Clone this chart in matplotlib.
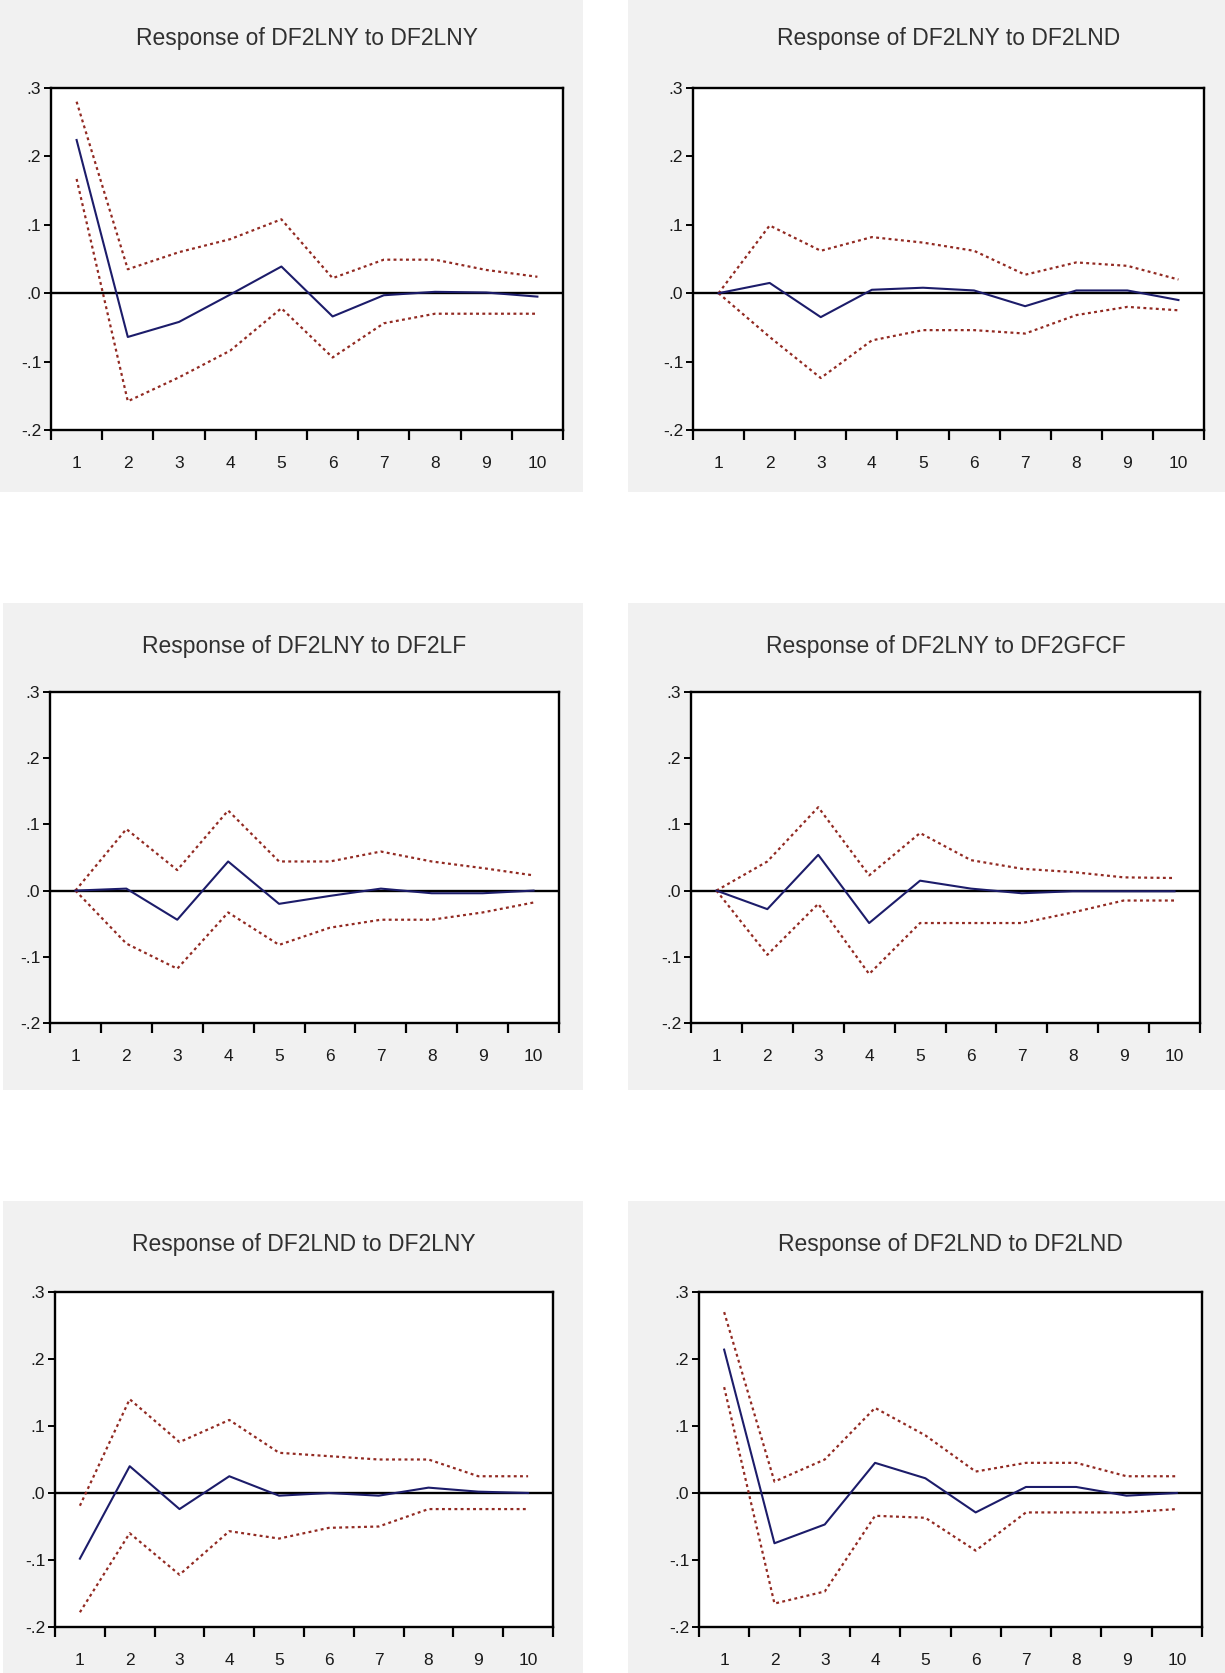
import matplotlib
matplotlib.use("Agg")
import matplotlib.pyplot as plt
from matplotlib.patches import Rectangle

# Impulse-response horizon
periods = [1, 2, 3, 4, 5, 6, 7, 8, 9, 10]

titles = [
    "Response of DF2LNY to DF2LNY",
    "Response of DF2LNY to DF2LND",
    "Response of DF2LNY to DF2LF",
    "Response of DF2LNY to DF2GFCF",
    "Response of DF2LND to DF2LNY",
    "Response of DF2LND to DF2LND",
]

# Point responses and +/- 2 S.E. bands
resp_ny_ny = [0.224, -0.064, -0.042, -0.002, 0.039, -0.034, -0.003, 0.002, 0.001, -0.005]
upper_ny_ny = [0.280, 0.035, 0.060, 0.079, 0.108, 0.022, 0.049, 0.049, 0.034, 0.024]
lower_ny_ny = [0.167, -0.158, -0.123, -0.084, -0.022, -0.094, -0.044, -0.030, -0.030, -0.030]

resp_ny_nd = [0.000, 0.015, -0.035, 0.005, 0.008, 0.004, -0.019, 0.004, 0.004, -0.010]
upper_ny_nd = [0.000, 0.099, 0.062, 0.082, 0.074, 0.062, 0.027, 0.045, 0.040, 0.020]
lower_ny_nd = [0.000, -0.064, -0.124, -0.069, -0.054, -0.054, -0.059, -0.032, -0.020, -0.025]

resp_ny_lf = [0.000, 0.003, -0.044, 0.044, -0.020, -0.008, 0.003, -0.004, -0.004, 0.000]
upper_ny_lf = [0.000, 0.093, 0.031, 0.121, 0.044, 0.044, 0.059, 0.044, 0.034, 0.023]
lower_ny_lf = [0.000, -0.080, -0.118, -0.033, -0.082, -0.056, -0.044, -0.044, -0.033, -0.018]

resp_ny_gfcf = [0.000, -0.028, 0.054, -0.049, 0.015, 0.003, -0.004, -0.001, -0.001, -0.001]
upper_ny_gfcf = [0.000, 0.044, 0.126, 0.023, 0.087, 0.046, 0.033, 0.028, 0.020, 0.019]
lower_ny_gfcf = [0.000, -0.097, -0.020, -0.126, -0.049, -0.049, -0.049, -0.033, -0.015, -0.015]

resp_nd_ny = [-0.098, 0.040, -0.024, 0.025, -0.004, 0.000, -0.004, 0.008, 0.002, 0.000]
upper_nd_ny = [-0.019, 0.140, 0.076, 0.109, 0.060, 0.055, 0.050, 0.050, 0.025, 0.025]
lower_nd_ny = [-0.178, -0.060, -0.122, -0.057, -0.068, -0.052, -0.050, -0.024, -0.024, -0.024]

resp_nd_nd = [0.214, -0.075, -0.047, 0.045, 0.022, -0.029, 0.009, 0.009, -0.004, 0.000]
upper_nd_nd = [0.270, 0.017, 0.050, 0.127, 0.086, 0.032, 0.045, 0.045, 0.025, 0.025]
lower_nd_nd = [0.158, -0.165, -0.147, -0.034, -0.037, -0.086, -0.029, -0.029, -0.029, -0.024]

y_ticks = [-0.2, -0.1, 0.0, 0.1, 0.2, 0.3]
y_tick_labels = ["-.2", "-.1", ".0", ".1", ".2", ".3"]

W, H = 1225, 1673
DPI = 100
plt.rcParams["font.family"] = ["Liberation Sans", "DejaVu Sans"]
fig = plt.figure(figsize=(W / DPI, H / DPI), dpi=DPI, facecolor="white")


def fig_box(left, top, right, bottom):
    """Pixel box (origin top-left) -> figure fraction [x, y, w, h]."""
    return [left / W, 1 - bottom / H, (right - left) / W, (bottom - top) / H]


# Grey panel backgrounds (drawn beneath the axes)
panel_bg = [
    (0, 0, 583, 492), (628, 0, 1225, 492),
    (3, 603, 583, 1090), (628, 603, 1225, 1090),
    (3, 1201, 583, 1673), (628, 1201, 1225, 1673),
]
for (l, t, r, b) in panel_bg:
    fig.patches.append(Rectangle((l / W, 1 - b / H), (r - l) / W, (b - t) / H,
                                 transform=fig.transFigure, facecolor="#f1f1f1",
                                 edgecolor="none", zorder=-5))

axes_px = [
    (51, 88, 563, 430), (693, 88, 1204, 430),
    (50, 692, 559, 1023), (691, 692, 1200, 1023),
    (55, 1292, 553, 1627), (699, 1292, 1202, 1627),
]
title_offset = [50, 50, 45, 45, 47, 47]

series = [
    (resp_ny_ny, upper_ny_ny, lower_ny_ny),
    (resp_ny_nd, upper_ny_nd, lower_ny_nd),
    (resp_ny_lf, upper_ny_lf, lower_ny_lf),
    (resp_ny_gfcf, upper_ny_gfcf, lower_ny_gfcf),
    (resp_nd_ny, upper_nd_ny, lower_nd_ny),
    (resp_nd_nd, upper_nd_nd, lower_nd_nd),
]

navy = "#1c1c6a"
band_red = "#922a22"

for (box, off, title, (resp, up, lo)) in zip(axes_px, title_offset, titles, series):
    ax = fig.add_axes(fig_box(*box), zorder=2)
    ax.set_facecolor("white")
    ax.axhline(0, color="black", lw=1.7, zorder=2)
    ax.plot(periods, up, color=band_red, lw=1.6, linestyle=(0, (1.3, 1.5)), zorder=3)
    ax.plot(periods, lo, color=band_red, lw=1.6, linestyle=(0, (1.3, 1.5)), zorder=3)
    ax.plot(periods, resp, color=navy, lw=1.5, zorder=4)

    ax.set_xlim(0.5, 10.5)
    ax.set_ylim(-0.2, 0.3)
    ax.set_yticks(y_ticks)
    ax.set_yticklabels(y_tick_labels)
    ax.set_xticks([p + 0.5 for p in [0] + periods])
    ax.set_xticklabels([])
    ax.set_xticks(periods, minor=True)
    ax.set_xticklabels([str(p) for p in periods], minor=True)
    ax.tick_params(axis="x", which="major", direction="out", length=7, width=1.6)
    ax.tick_params(axis="x", which="minor", length=0, pad=19, labelsize=12.5,
                   labelcolor="#1a1a1a")
    ax.tick_params(axis="y", direction="out", length=5, width=1.4, pad=2,
                   labelsize=12.5, labelcolor="#1a1a1a")
    for sp in ax.spines.values():
        sp.set_linewidth(1.7)
        sp.set_color("black")

    l, t, r, b = box
    fig.text(((l + r) / 2) / W, 1 - (t - off) / H, title, ha="center", va="center",
             fontsize=16.5, color="#303030", zorder=3)

fig.savefig("out.png", dpi=DPI, facecolor="white")
